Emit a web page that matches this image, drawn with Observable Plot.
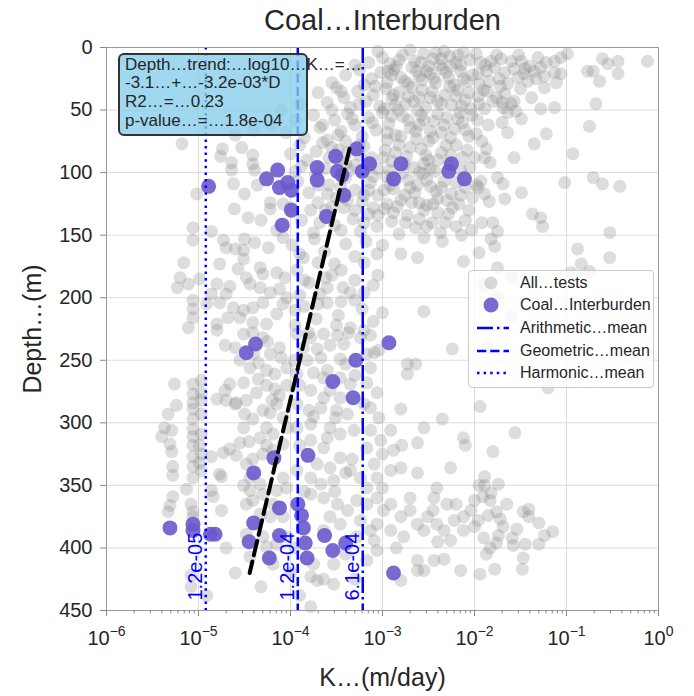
<!DOCTYPE html>
<html><head><meta charset="utf-8">
<script src="https://cdn.jsdelivr.net/npm/d3@7"></script>
<script src="https://cdn.jsdelivr.net/npm/@observablehq/plot@0.6"></script>
<style>
body{margin:0;background:#fff;font-family:"Liberation Sans",Arial,sans-serif;}
#wrap{position:relative;width:694px;height:696px;overflow:hidden;}
</style></head><body><div id="wrap"></div><script>
// ---- data: [log10 K (m/day), depth (m)] ----
const allTests = [
[-3.15,12],[-3.0,8],[-2.92,13],[-2.78,6],[-2.65,11],[-2.55,5],[-2.45,9],[-2.38,14],[-2.27,7],[-2.2,12],[-2.12,4],[-2.05,10],[-3.3,14],[-2.85,15],[-2.5,15],[-2.33,3],[-3.05,3],[-2.7,2],[-2.42,4],[-2.15,14],
[-3.55,28],[-3.4,22],[-3.25,18],[-3.12,25],[-3.02,20],[-2.95,28],[-2.88,18],[-2.8,24],[-2.72,29],[-2.63,19],[-2.57,26],[-2.48,21],[-2.42,28],[-2.35,17],[-2.28,24],[-2.22,30],[-2.15,19],[-2.08,27],[-3.2,30],[-2.68,16],[-2.9,22],[-2.6,23],[-2.31,20],[-2.02,22],
[-3.7,36],[-3.6,44],[-3.5,32],[-3.42,40],[-3.35,48],[-3.27,35],[-3.18,43],[-3.1,38],[-3.03,47],[-2.96,33],[-2.9,41],[-2.82,36],[-2.75,45],[-2.68,32],[-2.6,40],[-2.53,48],[-2.46,35],[-2.4,43],[-2.32,38],[-2.25,46],[-2.18,34],[-2.1,42],[-2.04,49],[-2.98,49],[-2.62,50],[-3.45,35],[-3.08,31],[-2.86,46],[-2.57,34],[-2.27,31],[-2.14,47],[-3.25,45],[-2.72,39],
[-4.05,68],[-3.95,58],[-3.85,72],[-3.75,54],[-3.68,64],[-3.6,74],[-3.52,58],[-3.45,67],[-3.38,53],[-3.3,62],[-3.22,71],[-3.15,56],[-3.07,66],[-3.0,52],[-2.93,61],[-2.86,70],[-2.78,55],[-2.7,64],[-2.63,73],[-2.55,58],[-2.48,67],[-2.4,53],[-2.33,62],[-2.26,72],[-2.18,57],[-2.1,66],[-2.03,54],[-3.4,75],[-2.95,74],[-2.5,75],[-3.55,50],[-3.33,57],[-3.11,60],[-2.83,50],[-2.6,62],[-2.36,68],[-2.13,60],
[-4.0,85],[-3.9,78],[-3.82,90],[-3.72,83],[-3.62,97],[-3.55,80],[-3.47,90],[-3.38,84],[-3.3,94],[-3.2,79],[-3.12,88],[-3.05,97],[-2.97,82],[-2.9,91],[-2.82,78],[-2.74,87],[-2.66,96],[-2.58,81],[-2.5,90],[-2.43,99],[-2.36,84],[-2.28,93],[-2.2,78],[-2.13,88],[-2.05,96],[-3.95,99],[-3.65,76],[-2.6,100],[-3.48,82],[-3.25,86],[-2.99,88],[-2.76,93],[-2.53,86],[-2.31,78],[-2.08,82],[-3.35,98],[-3.88,95],
[-3.92,107],[-3.8,116],[-3.7,124],[-3.58,110],[-3.5,120],[-3.4,104],[-3.3,114],[-3.22,123],[-3.13,108],[-3.05,118],[-2.96,103],[-2.88,113],[-2.8,122],[-2.72,106],[-2.65,116],[-2.56,101],[-2.48,111],[-2.4,121],[-2.33,107],[-2.25,117],[-2.17,125],[-2.1,112],[-2.02,120],[-2.95,125],[-2.6,124],[-3.1,103],[-2.86,106],[-2.62,110],[-2.42,115],[-2.2,108],[-3.45,112],[-3.2,118],[-2.98,114],[-2.76,118],[-2.3,122],[-3.6,117],[-3.73,102],
[-4.0,128],[-3.88,138],[-3.75,148],[-3.62,130],[-3.52,142],[-3.42,128],[-3.32,137],[-3.24,147],[-3.15,133],[-3.06,143],[-2.98,129],[-2.9,139],[-2.82,149],[-2.73,134],[-2.64,144],[-2.55,130],[-2.46,140],[-2.37,148],[-2.28,133],[-2.2,143],[-2.1,138],[-2.03,146],[-2.52,126],[-3.1,128],[-2.88,132],[-2.6,137],[-2.4,132],[-3.78,130],
[-3.98,158],[-3.86,168],[-3.74,153],[-3.63,163],[-3.52,173],[-3.4,157],[-3.3,167],[-3.18,155],[-3.06,165],[-2.8,165],[-2.62,168],[-2.12,171],[-2.55,152],[-2.35,155],
[-3.93,178],[-3.8,188],[-3.68,197],[-3.55,182],[-3.43,192],[-3.3,186],[-3.2,196],[-3.05,182],[-3.9,198],[-3.6,192],
[-3.85,207],[-3.72,217],[-3.6,204],[-3.48,214],[-3.35,224],[-3.22,209],[-3.1,219],[-2.55,211],[-3.95,222],[-3.3,202],
[-4.2,62],[-4.4,66],[-4.6,70],[-4.1,50],[-3.9,45],
[-2.82,10],[-2.58,12],[-2.36,9],[-2.18,6],[-1.98,5],[-1.88,14],[-1.76,6],[-1.52,6],[-1.45,17],[-1.28,16],[-2.94,19],[-2.76,27],[-2.52,19],[-2.44,25],[-2.26,15],[-2.12,25],[-1.9,34],[-1.72,31],[-1.5,33],[-1.38,40],[-2.88,38],[-2.66,43],[-2.48,40],[-2.36,45],[-2.2,39],[-2.06,36],[-1.95,45],[-1.7,44],
[-2.9,55],[-2.72,58],[-2.58,54],[-2.44,59],[-2.3,56],[-2.16,52],[-1.97,58],[-1.85,62],[-1.7,60],[-2.95,68],[-2.8,71],[-2.64,67],[-2.45,72],[-2.22,65],[-2.06,71],[-1.92,75],[-2.86,84],[-2.7,80],[-2.55,93],[-2.4,90],[-2.26,86],[-2.0,88],[-1.83,92],[-2.92,98],[-2.78,100],[-2.48,97],[-2.15,98],
[-2.92,110],[-2.7,112],[-2.52,106],[-2.36,112],[-2.15,118],[-1.98,110],[-2.84,127],[-2.68,124],[-2.45,125],[-2.24,128],[-2.06,130],[-2.75,140],[-2.52,143],[-2.32,140],[-2.14,150],[-1.92,140],
[-3.65,62],[-3.48,70],[-3.25,78],[-3.58,88],[-3.4,93],[-3.15,95],[-3.7,110],[-3.38,122],[-3.15,114],[-3.55,127],[-3.3,130],[-3.05,134],[-3.68,140],[-3.45,146],[-3.2,140],
[-3.9,165],[-3.7,172],[-3.45,178],[-3.2,172],[-3.0,158],[-3.85,186],[-3.62,184],[-3.35,196],[-3.1,190],[-3.95,210],[-3.7,205],[-3.45,203],[-3.2,226],[-3.5,222],[-3.8,228],[-3.0,212],[-3.9,270],[-3.6,258],[-3.3,262],[-3.75,295],[-3.5,290],[-3.2,285],[-4.25,235],[-4.6,240],[-4.4,245],[-4.1,248],[-4.35,265],[-4.6,285],[-4.2,282],[-4.45,315],[-4.3,325],
[-3.9,318],[-3.6,312],[-3.4,340],[-3.0,325],[-3.85,355],[-3.52,355],[-3.0,352],[-2.7,360],[-2.45,370],[-2.2,365],[-1.95,350],[-1.65,365],[-1.3,380],[-1.9,392],[-2.4,395],[-2.85,400],[-3.4,405],[-3.95,400],[-4.0,420],[-3.3,425],[-3.9,438],[-4.6,420],[-4.7,400],[-4.75,370],
[-1.93,12],[-1.82,11],[-1.71,9],[-1.60,11],[-1.49,11],[-1.40,15],[-1.31,8],[-1.22,12],[-1.13,11],[-1.06,8],[-0.99,5],
[-1.96,21],[-1.87,19],[-1.78,16],[-1.67,20],[-1.57,17],[-1.46,21],[-1.35,19],[-1.24,23],[-1.13,20],[-1.06,21],
[-1.95,29],[-1.84,27],[-1.73,25],[-1.64,29],[-1.53,24],[-1.42,27],[-1.33,25],[-1.24,32],[-1.11,28],
[-1.96,39],[-1.86,35],[-1.76,40],[-1.67,37],[-1.57,43],[-1.80,43],[-1.69,48],[-1.60,45],[-1.89,49],[-1.64,52],[-1.55,51],[-1.49,57],[-1.28,49],[-1.13,48],
[-0.77,19],[-0.71,19],[-0.64,27],[-0.61,9],[-0.55,13],[-0.44,11],[-0.44,21],[-0.12,11],[-0.68,45],[-0.75,63],
[-1.98,69],[-1.87,81],[-1.89,88],[-1.64,68],[-1.57,88],[-1.35,77],[-1.22,69],[-0.93,85],
[-1.96,112],[-1.93,107],[-1.89,117],[-1.75,104],[-1.69,109],[-1.67,121],[-1.49,116],[-1.84,123],
[-1.02,108],[-0.71,104],[-0.61,109],[-0.42,111],
[-1.80,140],[-1.75,147],[-1.82,153],[-1.78,159],[-1.95,164],[-1.37,133],[-1.28,136],[-1.26,143],[-0.88,161],[-0.84,173],[-0.75,179],[-0.53,148],[-0.53,168],[-1.75,176],[-1.82,188],[-1.60,184],
[-1.9,190],[-1.75,200],[-1.6,215],[-1.85,240],[-0.95,180],[-1.2,272],
[-5.18,77],[-4.74,81],[-4.76,87],[-4.64,92],[-4.64,98],[-4.53,80],[-4.41,86],[-4.41,93],[-4.39,98],[-4.36,110],[-4.62,109],[-5.02,117],[-4.5,117],[-4.61,129],[-4.46,136],[-4.32,138],[-4.22,124],[-4.22,129],[-4.08,125],
[-5.06,144],[-5.06,154],[-4.86,147],[-4.73,154],[-4.7,160],[-4.6,161],[-4.51,162],[-4.39,156],[-4.5,153],[-4.24,160],[-4.15,146],[-4.08,152],[-4.51,169],[-4.77,173],[-5.16,172],[-4.57,177],[-4.48,184],[-4.33,176],[-4.3,181],[-4.15,180],[-4.06,184],
[-5.2,184],[-5.23,192],[-5.11,189],[-4.99,185],[-4.8,189],[-4.66,191],[-4.44,189],[-4.33,192],[-4.22,196],[-4.12,193],[-4.3,204],[-4.04,200],[-5.06,202],[-5.06,209],[-5.06,216],[-5.11,224],[-4.86,197],[-4.77,204],[-4.7,197],[-4.62,208],[-4.51,210],[-4.41,208],[-4.68,216],[-4.55,216],[-4.41,220],[-4.26,221],[-4.15,213],[-4.08,205],[-4.8,221],[-4.91,205],
[-5.26,269],[-5.33,293],[-5.24,286],[-5.37,304],[-5.40,311],[-5.29,306],[-5.31,317],[-5.29,323],[-5.28,335],[-5.28,342],[-5.13,353],[-5.28,359],[-5.31,366],[-5.33,371],[-5.08,365],[-5.06,371],[-5.06,375],
[-5.06,269],[-5.06,277],[-5.06,284],[-5.06,289],[-5.06,297],[-5.06,305],[-5.06,311],[-5.06,318],[-5.06,327],[-5.06,335],[-5.06,344],
[-4.97,266],[-4.97,276],[-4.97,282],[-4.97,293],[-4.97,309],[-4.99,318],[-4.97,325],[-4.99,332],[-4.97,338],
[-4.86,354],[-4.84,359],[-4.86,327],[-4.77,341],[-4.75,343],[-5.08,422],[-5.08,431],[-4.91,438],[-4.32,431],
[-4.80,226],[-4.71,238],[-4.51,229],[-4.41,228],[-4.30,232],[-4.22,245],[-4.12,240],[-4.55,250],[-4.44,256],[-4.35,252],[-4.26,258],[-4.17,261],[-4.04,256],
[-4.51,268],[-4.66,269],[-4.71,274],[-4.80,281],[-4.70,282],[-4.59,284],[-4.48,282],[-4.37,276],[-4.26,270],[-4.17,273],[-4.04,270],[-4.12,278],
[-4.50,293],[-4.41,297],[-4.30,290],[-4.22,292],[-4.15,285],[-4.08,296],[-4.03,304],[-4.26,304],[-4.33,312],[-4.19,309],[-4.51,304],
[-4.55,316],[-4.66,321],[-4.73,324],[-4.59,326],[-4.48,333],[-4.41,329],[-4.26,318],[-4.19,322],[-4.08,317],
[-4.51,350],[-4.44,354],[-4.33,349],[-4.30,357],[-4.15,354],[-4.04,352],[-4.08,344],[-4.44,344],
[-4.48,365],[-4.41,362],[-4.33,373],[-4.22,375],[-4.19,365],[-4.08,375],[-4.48,389],[-4.30,391],[-4.26,399],[-4.15,397],[-4.04,391],[-4.19,413],[-4.44,407],
[-3.93,229],[-3.78,232],[-3.64,229],[-3.49,230],[-3.37,228],[-3.24,232],[-3.13,230],[-3.04,242],[-3.86,240],[-3.71,241],[-3.57,238],[-3.42,237],[-3.17,245],[-3.09,244],
[-3.96,250],[-3.82,250],[-3.67,248],[-3.46,249],[-3.40,253],[-3.13,256],[-3.93,261],[-3.75,260],[-3.64,264],[-3.46,264],[-3.35,269],[-3.17,268],[-3.06,276],[-3.13,288],[-3.04,296],
[-3.78,274],[-3.57,274],[-3.46,280],[-3.64,280],[-3.93,285],[-3.80,290],[-3.67,288],[-3.51,296],[-3.38,293],[-3.31,306],[-3.46,309],[-3.57,304],[-3.78,301],[-3.93,304],[-3.13,306],[-3.02,314],[-3.17,320],
[-3.78,314],[-3.64,320],[-3.71,333],[-3.57,336],[-3.46,328],[-3.93,338],[-3.78,344],[-3.67,349],[-3.53,346],[-3.35,338],[-3.24,344],[-3.09,333],[-3.06,344],[-3.33,329],[-3.17,352],
[-3.78,357],[-3.64,360],[-3.49,365],[-3.38,370],[-3.28,362],[-3.17,365],[-3.06,360],[-2.99,370],[-2.91,365],[-2.80,375],[-2.70,370],[-2.62,381],[-2.51,375],[-2.44,360],[-2.41,381],[-2.30,365],[-2.22,378],[-2.12,375],[-2.04,370],
[-3.57,375],[-3.46,381],[-3.64,386],[-3.24,378],[-3.13,386],[-3.06,381],[-2.91,386],[-2.77,391],[-2.55,386],[-2.33,386],[-2.26,394],[-2.12,386],[-3.28,391],[-3.09,394],
[-3.75,413],[-3.64,425],[-3.71,426],[-3.78,423],[-3.53,413],[-3.17,410],[-3.06,402],[-2.62,410],[-2.62,418],[-2.55,418],[-2.44,410],[-2.33,409],[-2.15,418],[-2.80,426],[-3.53,429],[-3.78,447],
[-2.24,241],[-2.73,253],[-2.64,253],[-2.73,261],[-2.80,289],[-2.35,297],[-2.91,306],[-2.62,316],[-2.79,318],[-2.88,322],[-2.12,312],[-2.10,318],[-2.26,336],[-2.62,340],[-2.80,336],[-2.91,338],[-2.55,304],[-2.41,352],
[-1.94,287],[-1.56,308],[-1.80,323],[-1.89,343],[-1.74,349],[-1.89,350],[-1.91,359],[-1.82,356],[-1.83,362],[-2.00,362],[-1.96,378],[-1.85,374],[-1.76,371],[-1.72,377],[-1.69,383],[-1.47,371],[-1.41,369],[-1.41,375],[-1.54,385],[-1.59,392],[-1.74,390],[-1.76,396],[-1.83,400],[-1.87,405],[-1.58,398],[-1.45,397],[-1.30,397],[-1.24,390],[-1.15,387],[-1.47,408],[-1.48,417],[-1.78,417],[-1.94,421],[-2.00,383]
];
const coalTests = [
[-4.89,111],[-4.26,105],[-4.14,98],[-4.12,112],[-4.03,108],[-3.99,114],[-3.99,130],[-4.09,142],[-3.71,96],[-3.71,106],[-3.51,87],[-3.49,99],[-3.44,102],[-3.42,118],[-3.61,135],[-3.28,81],[-3.22,99],[-3.14,93],[-2.80,93],[-2.88,105],[-2.25,93],[-2.28,99],[-2.11,105],
[-2.93,236],[-3.29,250],[-3.54,267],[-3.32,280],[-3.81,326],[-3.92,365],[-3.88,374],[-3.86,384],[-3.84,396],[-3.82,408],[-3.63,390],[-3.54,402],[-3.40,396],[-2.88,420],
[-4.38,237],[-4.48,244],[-4.18,328],[-4.40,340],[-4.12,368],[-4.40,380],[-4.45,395],[-4.23,408],[-4.12,390],[-5.31,384],[-5.06,381],[-5.06,386],[-4.87,389],[-4.82,389]
];
const meanNames = ["Arithmetic…mean","Geometric…mean","Harmonic…mean"];
const meanValues = [6.1e-4, 1.2e-4, 1.2e-5];
const meanLabels = ["6.1e-04","1.2e-04","1.2e-05"];
const trendIntercept = -3.1, trendSlope = -3.2e-3;
const annotationLines = ["Depth…trend:…log10…K…=…","-3.1…+…-3.2e-03*D","R2…=…0.23","p-value…=…1.8e-04"];
const seriesNames = ["All…tests","Coal…Interburden"];
const xTicks = [1e-6,1e-5,1e-4,1e-3,1e-2,1e-1,1];
const yTicks = [0,50,100,150,200,250,300,350,400,450];
const titleText = "Coal…Interburden", xLabel = "K…(m/day)", yLabel = "Depth…(m)";

// ---- build ----
const FONT = "'Liberation Sans', Arial, sans-serif";
const INK = "#262626";
const all = allTests.map(([lk, d]) => ({K: 10 ** lk, depth: d}));
const coal = coalTests.map(([lk, d]) => ({K: 10 ** lk, depth: d}));
const [dMin, dMax] = d3.extent(coal, d => d.depth);
const trend = [dMin, dMax].map(d => ({depth: d, K: 10 ** (trendIntercept + trendSlope * d)}));
const means = meanValues.map((v, i) => ({value: v, label: meanLabels[i], name: meanNames[i]}));
const dashes = ["16,4,2.5,4", "9.25,4", "2.5,4.1"];
const minor = [];
for (let e = -6; e < 0; e++) for (let k = 2; k < 10; k++) minor.push(k * 10 ** e);

const chart = Plot.plot({
  width: 694, height: 696,
  marginLeft: 106, marginRight: 36, marginTop: 47, marginBottom: 86,
  style: {fontFamily: FONT, color: INK, background: "white", overflow: "visible"},
  x: {type: "log", domain: [1e-6, 1]},
  y: {domain: [0, 450], reverse: true},
  marks: [
    Plot.gridX(xTicks, {stroke: "#dcdcdc", strokeOpacity: 1, strokeWidth: 1}),
    Plot.gridY(yTicks, {stroke: "#dcdcdc", strokeOpacity: 1, strokeWidth: 1}),
    Plot.dot(all, {x: "K", y: "depth", r: 6.5, fill: "gray", fillOpacity: 0.27}),
    Plot.dot(coal, {x: "K", y: "depth", r: 7.5, fill: "slateblue", fillOpacity: 0.9}),
    ...means.map((m, i) => Plot.ruleX([m], {x: "value", stroke: "blue", strokeWidth: 2.5, strokeDasharray: dashes[i]})),
    Plot.line(trend, {x: "K", y: "depth", stroke: "black", strokeWidth: 4, strokeDasharray: "14.8,6.4"}),
    Plot.text(means, {x: "value", text: "label", frameAnchor: "bottom", rotate: -90, textAnchor: "start", lineAnchor: "middle", dx: -10, dy: -10, fill: "blue", fontSize: 20}),
    Plot.frame({stroke: "#999"}),
    Plot.axisX(xTicks, {tickSize: 6, tickPadding: 14, fontSize: 20, stroke: "#888", tickFormat: d => "10^" + Math.round(Math.log10(d)), label: null}),
    Plot.axisX(minor, {tickSize: 3.5, stroke: "#888", tickFormat: () => "", label: null}),
    Plot.axisY(yTicks, {tickSize: 6, tickPadding: 8, fontSize: 20, stroke: "#888", label: null}),
    Plot.text([titleText], {frameAnchor: "top", dy: -27, fontSize: 29, lineAnchor: "middle", fill: INK}),
    Plot.text([xLabel], {frameAnchor: "bottom", dy: 67, fontSize: 25, lineAnchor: "middle", textAnchor: "middle", fill: INK}),
    Plot.text([yLabel], {frameAnchor: "left", dx: -74, rotate: -90, fontSize: 25, lineAnchor: "middle", textAnchor: "middle", fill: INK})
  ]
});

// superscript exponents on x tick labels
chart.querySelectorAll('g[aria-label="x-axis tick label"] text').forEach(t => {
  const s = t.textContent;
  if (!s.startsWith("10^")) return;
  const e = s.slice(3).replace("-", "\u2212");
  t.textContent = "10";
  const ts = document.createElementNS("http://www.w3.org/2000/svg", "tspan");
  ts.setAttribute("dy", "-0.6em");
  ts.setAttribute("font-size", "0.7em");
  ts.textContent = e;
  t.appendChild(ts);
});

const wrap = document.getElementById("wrap");
wrap.appendChild(chart);
chart.style.position = "absolute"; chart.style.left = "0"; chart.style.top = "0";

// annotation box
const box = document.createElement("div");
box.style.cssText = "position:absolute;left:118px;top:53px;width:190px;height:83px;box-sizing:border-box;border:2px solid #333;border-radius:6px;background:rgba(135,206,235,0.8);";
wrap.appendChild(box);
const note = document.createElement("div");
note.style.cssText = `position:absolute;left:125px;top:55.5px;font:17px ${FONT};line-height:18.9px;white-space:pre;color:${INK};`;
note.textContent = annotationLines.join("\n");
wrap.appendChild(note);

// legend
const leg = document.createElement("div");
leg.style.cssText = "position:absolute;left:468px;top:270px;width:186px;height:118px;box-sizing:border-box;border:1.5px solid #ccc;border-radius:4px;background:rgba(255,255,255,0.8);";
wrap.appendChild(leg);
const items = [
  {label: seriesNames[0], kind: "dot", r: 6.5, fill: "gray", op: 0.27},
  {label: seriesNames[1], kind: "dot", r: 7.5, fill: "slateblue", op: 0.9},
  ...means.map((m, i) => ({label: m.name, kind: "line", dash: dashes[i]}))
];
items.forEach((it, i) => {
  const cy = 11.5 + i * 22.7;
  const row = document.createElement("div");
  row.style.cssText = `position:absolute;left:0;top:${cy - 11}px;height:22px;width:184px;`;
  const sw = it.kind === "dot"
    ? `<circle cx="18" cy="11" r="${it.r}" fill="${it.fill}" fill-opacity="${it.op}"/>`
    : `<line x1="4" x2="36" y1="11" y2="11" stroke="blue" stroke-width="2.5" stroke-dasharray="${it.dash}"/>`;
  row.innerHTML = `<svg width="40" height="22" style="position:absolute;left:4px;top:0">${sw}</svg><span style="position:absolute;left:51px;top:0;font:16px ${FONT};line-height:22px;color:${INK};white-space:nowrap">${it.label}</span>`;
  leg.appendChild(row);
});
</script></body></html>
